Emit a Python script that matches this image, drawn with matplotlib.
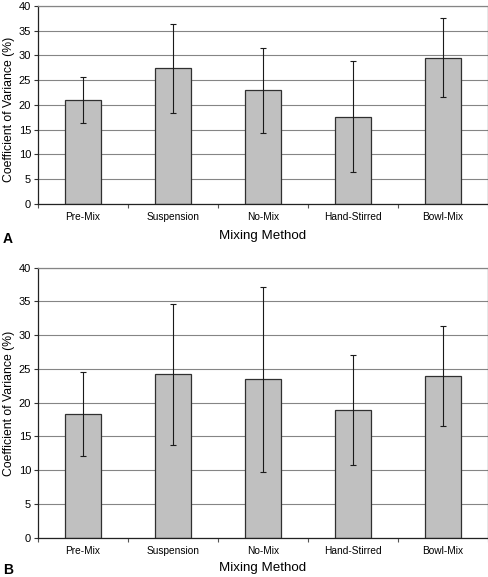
import matplotlib.pyplot as plt
import numpy as np

plt.rcParams['font.family'] = ['Liberation Sans', 'DejaVu Sans']

methods = ['Pre-Mix', 'Suspension', 'No-Mix', 'Hand-Stirred', 'Bowl-Mix']

# panel A: mean coefficient of variance and +/- error
cv_a = [21.0, 27.4, 23.0, 17.6, 29.5]
err_a = [4.7, 9.0, 8.6, 11.2, 8.0]

# panel B
cv_b = [18.3, 24.2, 23.5, 18.9, 23.9]
err_b = [6.2, 10.4, 13.7, 8.2, 7.4]

W, H = 489, 577
fig = plt.figure(figsize=(W / 100, H / 100), dpi=100)


def draw_panel(ax, vals, errs):
    x = np.arange(len(methods))
    ax.set_axisbelow(True)
    ax.yaxis.grid(True, color='#858585', linewidth=0.8)
    ax.bar(x, vals, width=0.4, color='#c0c0c0', edgecolor='#303030', linewidth=0.9, zorder=2)
    ax.errorbar(x, vals, yerr=errs, fmt='none', ecolor='#1a1a1a', elinewidth=0.8,
                capsize=2.5, capthick=0.8, zorder=3)
    ax.set_xlim(-0.5, len(methods) - 0.5)
    ax.set_ylim(0, 40)
    ax.set_yticks(range(0, 41, 5))
    # ticks at category boundaries, labels at centres
    ax.set_xticks(np.arange(-0.5, len(methods), 1.0))
    ax.set_xticklabels([])
    ax.set_xticks(x, minor=True)
    ax.set_xticklabels(methods, minor=True, fontsize=7.3)
    ax.tick_params(axis='x', which='major', length=3, color='#555555')
    ax.tick_params(axis='x', which='minor', length=0, pad=6)
    ax.tick_params(axis='y', length=3, labelsize=8, pad=2, color='#333333')
    ax.spines['top'].set_color('#858585')
    ax.spines['right'].set_color('#444444')
    ax.spines['left'].set_color('#222222')
    ax.spines['bottom'].set_color('#222222')
    for s in ax.spines.values():
        s.set_linewidth(0.9)


# axes rectangles in pixels: left, top, right, bottom
ax_a = fig.add_axes([38 / W, 1 - 203.7 / H, 450 / W, 197.7 / H])
ax_b = fig.add_axes([38 / W, 1 - 537.7 / H, 450 / W, 270 / H])
draw_panel(ax_a, cv_a, err_a)
draw_panel(ax_b, cv_b, err_b)

ylab = 'Coefficient of Variance (%)'
fig.text(9 / W, 1 - 109 / H, ylab, rotation=90, ha='center', va='center', fontsize=8.8)
fig.text(9 / W, 1 - 403 / H, ylab, rotation=90, ha='center', va='center', fontsize=8.8)

fig.text(263 / W, 1 - 236 / H, 'Mixing Method', ha='center', va='center', fontsize=9.6)
fig.text(263 / W, 1 - 568 / H, 'Mixing Method', ha='center', va='center', fontsize=9.6)

fig.text(3 / W, 1 - 239 / H, 'A', ha='left', va='center', fontsize=10, fontweight='bold')
fig.text(3 / W, 1 - 570 / H, 'B', ha='left', va='center', fontsize=10, fontweight='bold')

fig.savefig('out.png', dpi=100)
